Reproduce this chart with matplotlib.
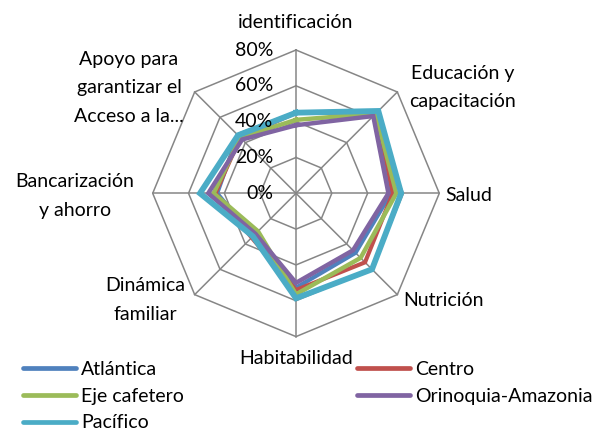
import numpy as np
import matplotlib
matplotlib.use("Agg")
import matplotlib.pyplot as plt
from matplotlib.lines import Line2D

plt.rcParams['font.family'] = ['Lato', 'DejaVu Sans']

categories = ["identificación", "Educación y\ncapacitación", "Salud", "Nutrición",
              "Habitabilidad", "Dinámica\nfamiliar", "Bancarización\ny ahorro",
              "Apoyo para\ngarantizar el\nAcceso a la..."]
series_names = ["Atlántica", "Centro", "Eje cafetero", "Orinoquia-Amazonia", "Pacífico"]
atlantica = [0.45, 0.64, 0.53, 0.47, 0.527, 0.34, 0.44, 0.46]
centro = [0.45, 0.64, 0.54, 0.545, 0.54, 0.35, 0.45, 0.44]
eje_cafetero = [0.41, 0.63, 0.56, 0.51, 0.564, 0.30, 0.46, 0.44]
orinoquia = [0.38, 0.61, 0.516, 0.45, 0.50, 0.32, 0.49, 0.425]
pacifico = [0.45, 0.65, 0.587, 0.60, 0.586, 0.34, 0.536, 0.458]
ring_values = [0.0, 0.2, 0.4, 0.6, 0.8]
ring_labels = ["0%", "20%", "40%", "60%", "80%"]

colors = ["#4F81BD", "#C0504D", "#9BBB59", "#8064A2", "#4BACC6"]
widths = [3.0, 3.0, 3.2, 3.2, 4.2]

W, H = 598, 430
fig = plt.figure(figsize=(W / 100, H / 100), dpi=100)
cx, cy, R = 296, 193.3, 143.3
ax = fig.add_axes([(cx - R) / W, 1 - (cy + R) / H, 2 * R / W, 2 * R / H], projection='polar')
ax.set_theta_zero_location('N')
ax.set_theta_direction(-1)
ax.set_ylim(0, 0.8)
ax.grid(False)
ax.spines['polar'].set_visible(False)
ax.set_xticks([])
ax.set_yticks([])
ax.patch.set_alpha(0)

n = len(categories)
theta = np.arange(n) * 2 * np.pi / n
theta_closed = np.append(theta, theta[0])

gray = "#868686"
for rv in ring_values[1:]:
    ax.plot(theta_closed, [rv] * (n + 1), color=gray, lw=1.1, clip_on=False, zorder=1)
for t in theta:
    ax.plot([t, t], [0, 0.8], color=gray, lw=1.1, clip_on=False, zorder=1)

data = [atlantica, centro, eje_cafetero, orinoquia, pacifico]
for name, vals, c, w in zip(series_names, data, colors, widths):
    v = list(vals) + [vals[0]]
    ax.plot(theta_closed, v, color=c, lw=w, solid_joinstyle='miter',
            clip_on=False, zorder=3, label=name)

fs = 14
for rv, lab in zip(ring_values, ring_labels):
    ax.annotate(lab, xy=(0, rv), xytext=(-23, 0), textcoords='offset pixels',
                ha='right', va='center', fontsize=fs, color='black', zorder=5)

label_offsets = [(0, 28), (65, 4.5), (6, -2), (6, -5.4), (0, -21.4),
                 (-49.7, -5.4), (-78, -2.7), (-65.7, 4)]
label_ha = ['center', 'center', 'left', 'left', 'center', 'center', 'center', 'center']
for t, lab, off, ha in zip(theta, categories, label_offsets, label_ha):
    ax.annotate(lab, xy=(t, 0.8), xytext=off, textcoords='offset pixels',
                ha=ha, va='center', multialignment='center', fontsize=fs,
                linespacing=1.85, annotation_clip=False)

order = [0, 2, 4, 1, 3]
leg_handles = [Line2D([0], [0], color=colors[i], lw=3.4, solid_capstyle='round') for i in order]
leg = fig.legend(leg_handles, [series_names[i] for i in order], ncol=2,
                 loc='upper left', bbox_to_anchor=(23 / W, 1 - 361 / H),
                 frameon=False, fontsize=fs, handlelength=2.7, handletextpad=0.3,
                 labelspacing=0.5, columnspacing=8.9, borderpad=0, borderaxespad=0)

fig.savefig("out.png", dpi=100)
